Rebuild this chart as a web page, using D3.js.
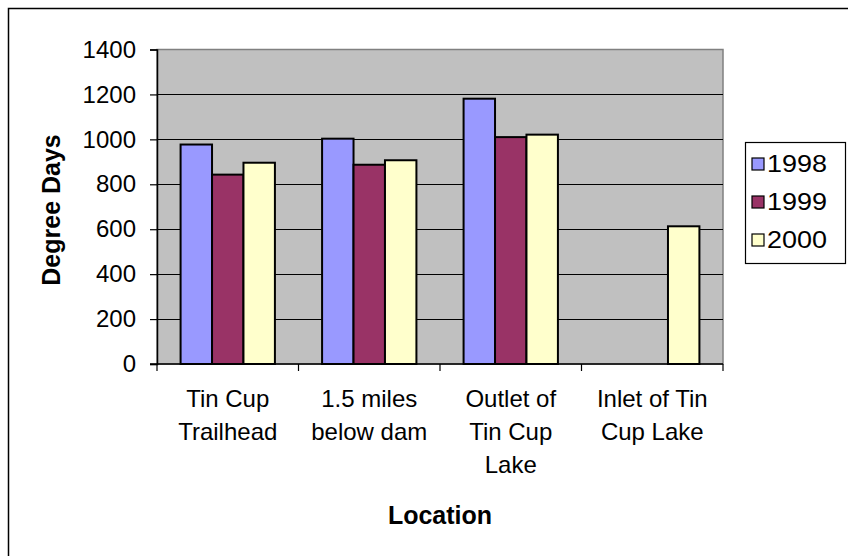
<!DOCTYPE html>
<html>
<head>
<meta charset="utf-8">
<script src="https://cdn.jsdelivr.net/npm/d3@7"></script>
<style>
  html, body { margin: 0; padding: 0; background: #fff; }
  svg { display: block; }
  text { font-family: "Liberation Sans", Arial, sans-serif; fill: #000; }
</style>
</head>
<body>
<svg id="chart" width="848" height="556"></svg>
<script>
const categories = [
  ["Tin Cup", "Trailhead"],
  ["1.5 miles", "below dam"],
  ["Outlet of", "Tin Cup", "Lake"],
  ["Inlet of Tin", "Cup Lake"]
];
const seriesNames = ["1998", "1999", "2000"];
const values1998 = [977, 1003, 1181, null];
const values1999 = [843, 887, 1010, null];
const values2000 = [896, 907, 1021, 613];
const seriesColors = ["#9999FF", "#993366", "#FFFFCC"];
const yTicks = [0, 200, 400, 600, 800, 1000, 1200, 1400];
const yTitle = "Degree Days";
const xTitle = "Location";

const seriesValues = [values1998, values1999, values2000];

const svg = d3.select("#chart");
const plot = { left: 157, right: 723, top: 49.5, bottom: 364 };

// outer chart border
svg.append("rect")
  .attr("x", 8.5).attr("y", 8.5)
  .attr("width", 900).attr("height", 600)
  .attr("fill", "#fff").attr("stroke", "#000").attr("stroke-width", 1.5);

const x = d3.scaleBand()
  .domain(d3.range(categories.length))
  .range([plot.left, plot.right])
  .padding(0);
const bw = x.bandwidth() / 4.5;
const xs = d3.scaleBand()
  .domain(seriesNames)
  .range([0.75 * bw, 3.75 * bw])
  .padding(0);
const y = d3.scaleLinear().domain([0, 1400]).range([plot.bottom, plot.top]);

// plot area
svg.append("rect")
  .attr("x", plot.left).attr("y", plot.top)
  .attr("width", plot.right - plot.left).attr("height", plot.bottom - plot.top)
  .attr("fill", "#C0C0C0").attr("stroke", "#808080").attr("stroke-width", 1.5);

// gridlines
svg.append("g").selectAll("line")
  .data(yTicks.filter(t => t > 0 && t < 1400))
  .join("line")
  .attr("x1", plot.left).attr("x2", plot.right)
  .attr("y1", d => Math.round(y(d)) + 0.5).attr("y2", d => Math.round(y(d)) + 0.5)
  .attr("stroke", "#000").attr("stroke-width", 1.2);

// bars
const rows = [];
seriesNames.forEach((s, si) => {
  seriesValues[si].forEach((v, ci) => {
    if (v != null) rows.push({ s, si, ci, v });
  });
});
svg.append("g").selectAll("rect")
  .data(rows)
  .join("rect")
  .attr("x", d => x(d.ci) + xs(d.s))
  .attr("y", d => y(d.v))
  .attr("width", xs.bandwidth())
  .attr("height", d => y(0) - y(d.v))
  .attr("fill", d => seriesColors[d.si])
  .attr("stroke", "#000").attr("stroke-width", 2);

// y axis
const yAxis = d3.axisLeft(y).tickValues(yTicks).tickSize(7).tickPadding(14).tickFormat(d3.format("d"));
const gy = svg.append("g").attr("transform", `translate(${plot.left},0)`).call(yAxis);
gy.select(".domain").attr("stroke", "#000").attr("stroke-width", 1.5);
gy.selectAll(".tick line").attr("stroke", "#000").attr("stroke-width", 1.2);
gy.selectAll(".tick text")
  .style("font-family", '"Liberation Sans", Arial, sans-serif')
  .style("font-size", "24px").attr("fill", "#000");

// x axis (category boundaries ticks)
const bounds = d3.range(categories.length + 1).map(i => plot.left + i * x.bandwidth());
svg.append("line")
  .attr("x1", plot.left - 7).attr("x2", plot.right)
  .attr("y1", plot.bottom).attr("y2", plot.bottom)
  .attr("stroke", "#000").attr("stroke-width", 1.5);
svg.append("g").selectAll("line")
  .data(bounds)
  .join("line")
  .attr("x1", d => d).attr("x2", d => d)
  .attr("y1", plot.bottom).attr("y2", plot.bottom + 7)
  .attr("stroke", "#000").attr("stroke-width", 1.2);

// category labels
const catG = svg.append("g");
categories.forEach((lines, ci) => {
  const t = catG.append("text")
    .attr("text-anchor", "middle")
    .style("font-size", "24px");
  lines.forEach((ln, li) => {
    t.append("tspan")
      .attr("x", x(ci) + x.bandwidth() / 2)
      .attr("y", 407 + li * 33)
      .text(ln);
  });
});

// axis titles
svg.append("text")
  .attr("x", 440).attr("y", 524)
  .attr("text-anchor", "middle")
  .style("font-size", "25px").style("font-weight", "bold")
  .text(xTitle);
svg.append("text")
  .attr("transform", "translate(60,210) rotate(-90)")
  .attr("text-anchor", "middle")
  .style("font-size", "25px").style("font-weight", "bold")
  .text(yTitle);

// legend
const leg = svg.append("g");
leg.append("rect")
  .attr("x", 745.5).attr("y", 142.5)
  .attr("width", 100).attr("height", 121)
  .attr("fill", "#fff").attr("stroke", "#000").attr("stroke-width", 1.2);
seriesNames.forEach((s, i) => {
  const cy = 164 + i * 38;
  leg.append("rect")
    .attr("x", 752).attr("y", cy - 6)
    .attr("width", 12).attr("height", 12)
    .attr("fill", seriesColors[i]).attr("stroke", "#000").attr("stroke-width", 1.2);
  leg.append("text")
    .attr("x", 767).attr("y", cy + 8)
    .style("font-size", "24px")
    .attr("textLength", 60)
    .attr("lengthAdjust", "spacingAndGlyphs")
    .text(s);
});
</script>
</body>
</html>
